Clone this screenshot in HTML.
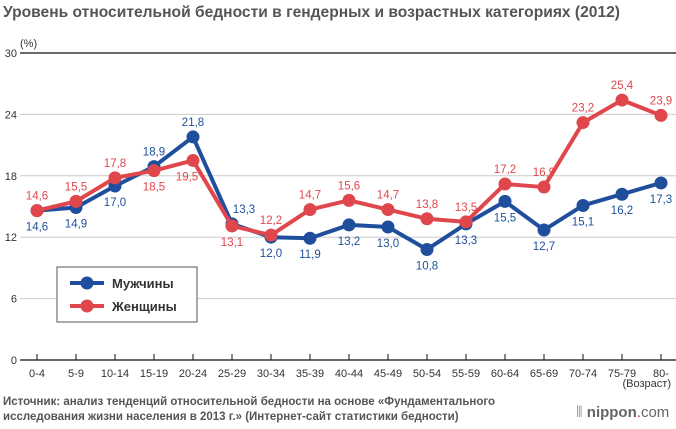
<!DOCTYPE html>
<html><head><meta charset="utf-8"><style>
body{margin:0;background:#fff;font-family:"Liberation Sans",sans-serif}
svg text{font-family:"Liberation Sans",sans-serif}
</style></head><body>
<svg width="676" height="424">
<text x="3" y="17" font-size="15.6" font-weight="bold" fill="#555">Уровень относительной бедности в гендерных и возрастных категориях (2012)</text>
<text x="20" y="47" font-size="11" fill="#333">(%)</text>
<g id="grid"></g><g id="xaxis"></g><g id="series"></g>
<g>
<rect x="57" y="267" width="140" height="55" fill="#fff" stroke="#555"/>
<line x1="70" y1="283" x2="104" y2="283" stroke="#1f4f9c" stroke-width="4"/><circle cx="87" cy="283" r="6.5" fill="#1f4f9c"/>
<text x="112" y="288" font-size="13" font-weight="bold" fill="#333">Мужчины</text>
<line x1="70" y1="306" x2="104" y2="306" stroke="#e0474c" stroke-width="4"/><circle cx="87" cy="306" r="6.5" fill="#e0474c"/>
<text x="112" y="311" font-size="13" font-weight="bold" fill="#333">Женщины</text>
</g>
<text x="671" y="387" font-size="11" fill="#333" text-anchor="end">(Возраст)</text>
<text x="3" y="405" font-size="11.5" font-weight="bold" fill="#555">Источник: анализ тенденций относительной бедности на основе «Фундаментального</text>
<text x="3" y="420" font-size="11.5" font-weight="bold" fill="#555">исследования жизни населения в 2013 г.» (Интернет-сайт статистики бедности)</text>
<text x="576" y="417" font-size="15" fill="#666"><tspan fill="#999">⦀ </tspan><tspan font-weight="bold">nippon</tspan><tspan fill="#c33">.</tspan>com</text>
</svg>
<script>
const categories=["0-4","5-9","10-14","15-19","20-24","25-29","30-34","35-39","40-44","45-49","50-54","55-59","60-64","65-69","70-74","75-79","80-"];
const men=[14.6,14.9,17.0,18.9,21.8,13.3,12.0,11.9,13.2,13.0,10.8,13.3,15.5,12.7,15.1,16.2,17.3];
const women=[14.6,15.5,17.8,18.5,19.5,13.1,12.2,14.7,15.6,14.7,13.8,13.5,17.2,16.9,23.2,25.4,23.9];
const yTicks=[0,6,12,18,24,30];
const menAbove=[0,0,0,1,1,1,0,0,0,0,0,0,0,0,0,0,0];
const womenAbove=[1,1,1,0,0,0,1,1,1,1,1,1,1,1,1,1,1];
const menShift=[0,0,0,0,0,12,0,0,0,0,0,0,0,0,0,0,0];
const womenShift=[0,0,0,0,-6,0,0,0,0,0,0,0,0,0,0,0,0];
const NS="http://www.w3.org/2000/svg";
const X=i=>37+i*39, Y=v=>360-v*(307/30);
function mk(t,a,p){const e=document.createElementNS(NS,t);for(const k in a)e.setAttribute(k,a[k]);p.appendChild(e);return e;}
const g=document.getElementById('grid'),xa=document.getElementById('xaxis'),s=document.getElementById('series');
yTicks.forEach(v=>{
 const l=mk('line',{x1:20,x2:676,y1:Y(v),y2:Y(v),stroke:v==0||v==30?'#111':'#ccc','stroke-width':v==0||v==30?1.2:1},g);
 
 
 const t=mk('text',{x:17,y:Y(v)+4,'font-size':11,fill:'#333','text-anchor':'end'},g);t.textContent=v;
 
 
});
categories.forEach((c,i)=>{
 mk('line',{x1:X(i),x2:X(i),y1:Y(0)-6,y2:Y(0),stroke:'#111'},xa);
 const t=mk('text',{x:X(i),y:377,'font-size':11,fill:'#333','text-anchor':'middle'},xa);t.textContent=c;
 
 
});
function draw(d,col,above,shift,name){
 const p=mk('polyline',{points:d.map((v,i)=>X(i)+','+Y(v)).join(' '),fill:'none',stroke:col,'stroke-width':4,'stroke-linejoin':'round'},s);
 
 
 d.forEach((v,i)=>{
  const c=mk('circle',{cx:X(i),cy:Y(v),r:6.5,fill:col},s);
  
  
  const t=mk('text',{x:X(i)+shift[i],y:above[i]?Y(v)-11:Y(v)+20,'font-size':11.5,fill:col,'text-anchor':'middle'},s);
  t.textContent=v.toFixed(1).replace('.',',');
  
  
 });
}
draw(men,'#1f4f9c',menAbove,menShift,'men');
draw(women,'#e0474c',womenAbove,womenShift,'women');
</script>
</body></html>
